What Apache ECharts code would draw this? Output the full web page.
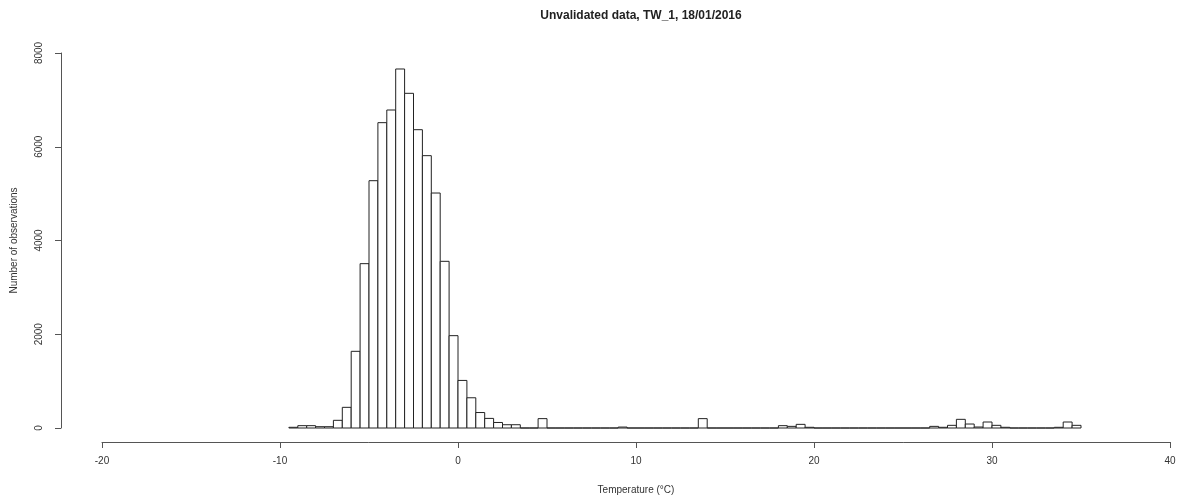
<!DOCTYPE html>
<html lang="en">
<head>
    <meta charset="UTF-8">
    <title>Unvalidated data, TW_1, 18/01/2016</title>
    <style>
        html, body { margin: 0; padding: 0; background: #fff; }
        #main { width: 1184px; height: 501px; }
    </style>
</head>
<body>
    <div id="main"></div>
    <script src="https://cdn.jsdelivr.net/npm/echarts@6/dist/echarts.min.js"></script>
<script type="text/javascript">
    // histogram breaks: first break and bin width
    var firstBreak = -9.5;
    var binWidth = 0.5;
    // counts per bin, from [-9.5,-9] up to [34.5,35]
    var counts = [
        15, 50, 50, 28, 28, 164, 441, 1636, 3506, 5276,
        6514, 6784, 7659, 7140, 6364, 5810, 5013, 3556, 1970, 1015,
        645, 330, 205, 118, 70, 70, 0, 0, 200, 0,
        0, 0, 0, 0, 0, 0, 0, 20, 0, 0,
        0, 0, 0, 0, 0, 0, 200, 0, 0, 0,
        0, 0, 0, 0, 0, 50, 35, 78, 15, 0,
        0, 0, 0, 0, 0, 0, 0, 0, 0, 0,
        0, 0, 35, 15, 57, 185, 85, 21, 128, 57,
        15, 0, 0, 0, 0, 0, 15, 128, 57
    ];
    var xTicks = [-20, -10, 0, 10, 20, 30, 40];
    var yTicks = [0, 2000, 4000, 6000, 8000];

    var binData = counts.map(function (c, i) {
        var lo = firstBreak + i * binWidth;
        return [lo, lo + binWidth, c];
    });

    var myChart = echarts.init(document.getElementById('main'));
    var font = 'Liberation Sans, Arial, sans-serif';

    var option = {
        backgroundColor: '#ffffff',
        animation: false,
        title: {
            text: 'Unvalidated data, TW_1, 18/01/2016',
            left: 636,
            textAlign: 'center',
            top: 5,
            textStyle: { fontFamily: font, fontSize: 12, fontWeight: 'bold', color: '#222' }
        },
        grid: { left: 102, right: 14, top: 53, bottom: 73 },
        xAxis: {
            type: 'value',
            min: xTicks[0],
            max: xTicks[xTicks.length - 1],
            interval: 10,
            offset: 14,
            name: 'Temperature (°C)',
            nameLocation: 'middle',
            nameGap: 43,
            nameTextStyle: { fontFamily: font, fontSize: 10, color: '#333' },
            axisLine: { onZero: false, lineStyle: { color: '#555', width: 1 } },
            axisTick: { length: 6, lineStyle: { color: '#555' } },
            axisLabel: { margin: 14, fontFamily: font, fontSize: 10, color: '#333' },
            splitLine: { show: false }
        },
        yAxis: {
            type: 'value',
            min: yTicks[0],
            max: yTicks[yTicks.length - 1],
            interval: 2000,
            offset: 41,
            name: 'Number of observations',
            nameLocation: 'middle',
            nameGap: 42,
            nameRotate: 90,
            nameTextStyle: { fontFamily: font, fontSize: 10, color: '#333' },
            axisLine: { show: true, onZero: false, lineStyle: { color: '#555', width: 1 } },
            axisTick: { show: true, length: 6, lineStyle: { color: '#555' } },
            axisLabel: {
                rotate: 90, margin: 17, fontFamily: font, fontSize: 10, color: '#333',
                formatter: function (v) { return String(v); }
            },
            splitLine: { show: false }
        },
        series: [{
            type: 'custom',
            data: binData,
            encode: { x: [0, 1], y: 2 },
            renderItem: function (params, api) {
                var p0 = api.coord([api.value(0), api.value(2)]);
                var p1 = api.coord([api.value(1), 0]);
                return {
                    type: 'rect',
                    shape: { x: p0[0], y: p0[1], width: p1[0] - p0[0], height: p1[1] - p0[1] },
                    style: { fill: '#ffffff', stroke: '#222', lineWidth: 1 }
                };
            }
        }]
    };
    myChart.setOption(option);
</script>
</body>
</html>
